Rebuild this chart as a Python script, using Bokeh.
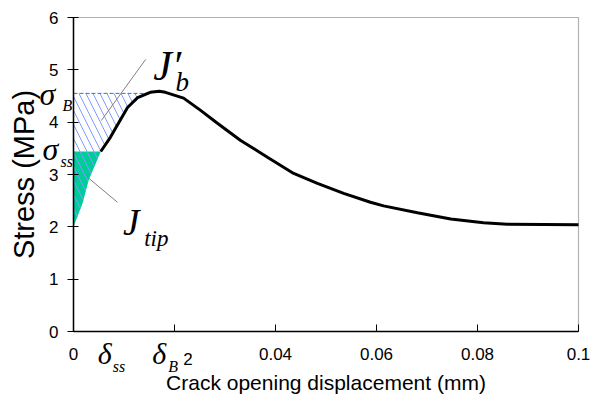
import numpy as np
from bokeh.plotting import figure
from bokeh.models import Label, Range1d, FixedTicker, BoxAnnotation
from bokeh.embed import file_html
from bokeh.resources import INLINE

# ---- data ----
cod = [0.0, 0.0018, 0.0030, 0.0054, 0.0073, 0.0089, 0.0107, 0.0127, 0.0152,
       0.0170, 0.0182, 0.0218, 0.0251, 0.0285, 0.0331, 0.0384, 0.0436, 0.0483,
       0.0535, 0.0588, 0.0614, 0.0681, 0.0747, 0.0812, 0.0859, 0.1]
stress = [2.00, 2.45, 2.89, 3.44, 3.71, 3.98, 4.28, 4.47, 4.57,
          4.59, 4.57, 4.46, 4.23, 3.98, 3.65, 3.33, 3.02, 2.83,
          2.64, 2.47, 2.40, 2.27, 2.15, 2.08, 2.05, 2.04]
sigma_ss = 3.44
sigma_B = 4.55
delta_ss = 0.0054
delta_B = 0.0172
x_ticks = [0, 0.02, 0.04, 0.06, 0.08, 0.1]
x_tick_labels = ["0", "", "0.04", "0.06", "0.08", "0.1"]
y_ticks = [0, 1, 2, 3, 4, 5, 6]
X0, X1, Y0, Y1 = 0.0, 0.1, 0.0, 6.0

# ---- layout (pixels) ----
W, H = 592, 408
BL, BR, BT, BB = 73, 14, 17, 77          # space around the plot box
kx = (X1 - X0) / (W - BL - BR)            # data units per pixel
ky = (Y1 - Y0) / (H - BT - BB)

cod_a = np.array(cod)
st_a = np.array(stress)

# The frame fills the canvas so that labels around the box are not clipped;
# the axes are pinned at x=0 / y=0 with fixed_location.
p = figure(width=W, height=H, output_backend="svg", toolbar_location=None,
           x_range=Range1d(X0 - BL * kx, X1 + BR * kx),
           y_range=Range1d(Y0 - BB * ky, Y1 + BT * ky),
           min_border=0, min_border_left=0, min_border_right=0,
           min_border_top=0, min_border_bottom=0)
p.background_fill_color = "white"
p.border_fill_color = "white"
p.outline_line_color = None
p.grid.visible = False

# ---- green J_tip area ----
tip_mask = cod_a <= delta_ss
gx = list(cod_a[tip_mask]) + [0.0]
gy = list(st_a[tip_mask]) + [sigma_ss]
p.patch(gx, gy, fill_color="#00cc99", line_color=None)

# ---- hatched J'_b area ----
rise = cod_a <= 0.0152
x_cross = float(np.interp(sigma_B, st_a[rise], cod_a[rise]))
hm = (cod_a < x_cross)
hx = list(cod_a[hm]) + [x_cross, 0.0]
hy = list(st_a[hm]) + [sigma_B, sigma_B]
p.patch(hx, hy, fill_alpha=0, line_color=None, hatch_pattern="\\",
        hatch_color="#7f9cff", hatch_scale=14, hatch_weight=1)
p.line([0, 0.0155], [sigma_B, sigma_B], line_color="#3a66ff",
       line_dash="4 2", line_width=1)

# ---- curve ----
cm = cod_a >= delta_ss
p.line(cod_a[cm], st_a[cm], line_color="black", line_width=3)

# ---- leader lines ----
p.segment(x0=[0.0055, 0.0030], y0=[4.03, 2.93], x1=[0.0143, 0.0087],
          y1=[5.20, 2.47], line_color="#808080", line_width=1)

# ---- plot box ----
p.add_layout(BoxAnnotation(left=X0, right=X1, bottom=Y0, top=Y1,
                           fill_alpha=0, line_color="black", line_width=1.2))

# ---- axes ----
for ax in (p.xaxis[0], p.yaxis[0]):
    ax.fixed_location = 0
    ax.axis_line_width = 1.5
    ax.axis_line_color = "black"
    ax.major_tick_line_color = "black"
    ax.minor_tick_line_color = None
    ax.major_label_text_font = "Liberation Sans"
    ax.major_label_text_font_size = "17px"
    ax.major_label_text_color = "black"
    ax.axis_label_text_font = "Liberation Sans"
    ax.axis_label_text_font_style = "normal"
    ax.axis_label_text_color = "black"

p.xaxis.bounds = (X0, X1)
p.xaxis.ticker = FixedTicker(ticks=x_ticks)
p.xaxis.major_label_overrides = {t: l for t, l in zip(x_ticks, x_tick_labels)}
p.xaxis.major_tick_in = 7
p.xaxis.major_tick_out = 0
p.xaxis.major_label_standoff = 16
p.xaxis.axis_label = "Crack opening displacement (mm)"
p.xaxis.axis_label_text_font_size = "21px"
p.xaxis.axis_label_standoff = 8

p.yaxis.bounds = (Y0, Y1)
p.yaxis.ticker = FixedTicker(ticks=y_ticks)
p.yaxis.major_tick_in = 5
p.yaxis.major_tick_out = 6
p.yaxis.major_label_standoff = 9
p.yaxis.axis_label = "Stress (MPa)"
p.yaxis.axis_label_text_font_size = "29px"
p.yaxis.axis_label_standoff = 6

serif = "Liberation Serif"


def lab(text, x, y, size, xo=0, yo=0, align="left", style="italic",
        font=serif):
    p.add_layout(Label(x=x, y=y, x_offset=xo, y_offset=yo, text=text,
                       text_font=font, text_font_size=size,
                       text_font_style=style, text_align=align,
                       text_baseline="alphabetic", text_color="black"))


# tick "2" partly hidden by δ_B in the original
lab("2", 0.02, 0, "17px", xo=13.5, yo=-27, align="center", style="normal",
    font="Liberation Sans")

# sigma labels next to the y axis
lab("σ", 0.0, sigma_B, "32px", xo=-34, yo=-1)
lab("B", 0.0, sigma_B, "16px", xo=-11, yo=-12)
lab("σ", 0.0, sigma_ss, "32px", xo=-31, yo=2)
lab("ss", 0.0, sigma_ss, "16px", xo=-13, yo=-10)

# delta labels below the x axis
lab("δ", delta_ss, 0, "30px", xo=-3, yo=-22)
lab("ss", delta_ss, 0, "16px", xo=12, yo=-35)
lab("δ", delta_B, 0, "30px", xo=-8, yo=-22)
lab("B", delta_B, 0, "16px", xo=8, yo=-35)

# J labels
lab("J′", 0.0158, 5.08, "42px")
lab("b", 0.0202, 4.77, "27px")
lab("J", 0.0098, 2.09, "37px")
lab("tip", 0.0140, 1.78, "23px")

open("out.html", "w").write(file_html(p, INLINE))
